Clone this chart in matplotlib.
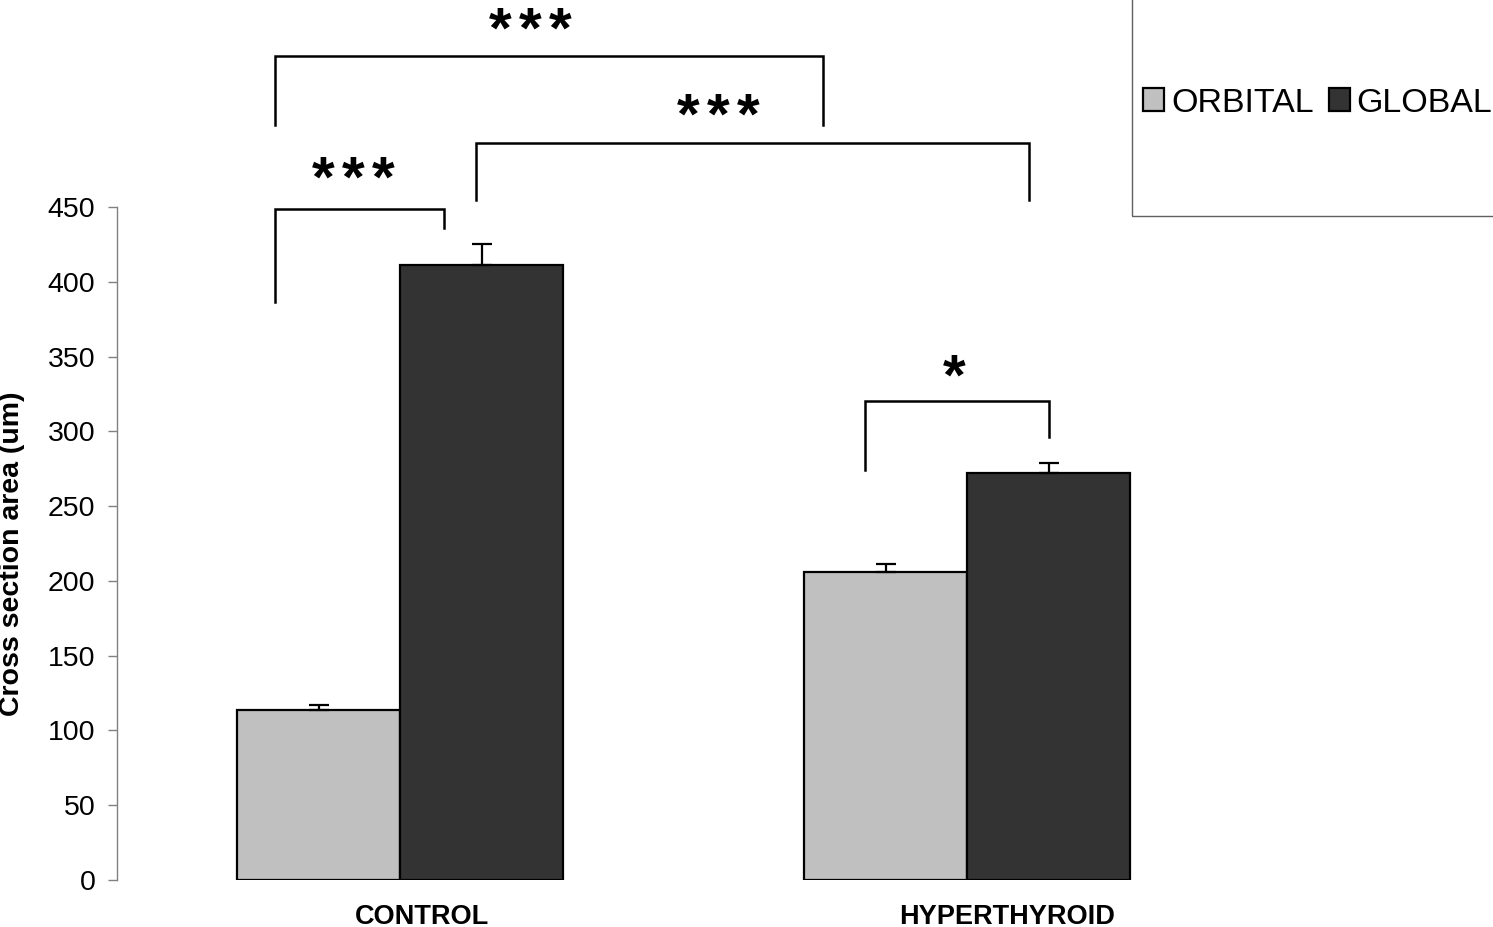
import numpy as np
import matplotlib.pyplot as plt
from matplotlib.patches import Patch, Rectangle

plt.rcParams['font.family'] = ['Liberation Sans', 'DejaVu Sans']

# datos
groups = ["CONTROL", "HYPERTHYROID"]
series = ["ORBITAL", "GLOBAL"]
orbital = [113.7, 206.1]
orbital_err = [3.3, 5.3]
global_ = [411.2, 271.9]
global_err = [14.2, 7.1]

# brackets de significancia: (x izq, x der, y izq, y arriba, y der, n estrellas, x texto, y base texto)
brackets = [
    (-0.221, 0.077, 386.5, 448.7, 436.0, 3, -0.083, 457.0),
    (-0.221, 0.745, 504.8, 551.0, 504.8, 3, 0.230, 556.3),
    (0.133, 1.109, 454.7, 492.8, 454.7, 3, 0.560, 498.8),
    (0.819, 1.144, 274.0, 320.3, 296.2, 1, 0.978, 324.9),
]

colors = ["#c0c0c0", "#333333"]

fig = plt.figure(figsize=(14.93, 9.27), dpi=100)
ax = fig.add_axes([0.07837, 0.05070, 0.7592, 0.7260])

x = np.arange(len(groups))
w = 0.2875
ax.bar(x - w / 2, orbital, w, color=colors[0], edgecolor="black", linewidth=1.6,
       yerr=[np.zeros(len(groups)), orbital_err], capsize=7,
       error_kw=dict(elinewidth=1.6, capthick=1.6, ecolor="black"))
ax.bar(x + w / 2, global_, w, color=colors[1], edgecolor="black", linewidth=1.6,
       yerr=[np.zeros(len(groups)), global_err], capsize=7,
       error_kw=dict(elinewidth=1.6, capthick=1.6, ecolor="black"))

ax.set_xlim(-0.5, 1.5)
ax.set_ylim(0, 450)
ax.set_yticks(np.arange(0, 451, 50))
ax.tick_params(axis="y", direction="out", length=6.5, width=1, color="#808080",
               labelsize=20.5, pad=9)
ax.set_xticks([])
for s in ["top", "right", "bottom"]:
    ax.spines[s].set_visible(False)
ax.spines["left"].set_color("#808080")
ax.spines["left"].set_linewidth(1)

# etiquetas de grupo
label_shift = [0.039, 0.071]
for i, g in enumerate(groups):
    ax.text(x[i] + label_shift[i], -16, g, ha="center", va="top",
            fontsize=19.5, fontweight="bold")

fig.text(12 / 1493, 0.4024, "Cross section area (um)", rotation=90,
         ha="center", va="center", fontsize=20.5, fontweight="bold")

# brackets
for x1, x2, y1, yt, y2, n, tx, ty in brackets:
    ax.plot([x1, x1, x2, x2], [y1, yt, yt, y2], color="black", lw=1.8,
            clip_on=False, solid_joinstyle="miter")
    for k in range(n):
        ax.annotate("*", (tx, ty), xytext=((k - (n - 1) / 2) * 21.6, 0),
                    textcoords="offset points", ha="center", va="baseline",
                    fontsize=42, fontweight="bold", annotation_clip=False)

# leyenda
fig.patches.append(Rectangle((1132 / 1493, 1 - 216 / 927), 0.4, 0.4,
                             transform=fig.transFigure, fill=False,
                             edgecolor="#606060", lw=1))
handles = [Patch(facecolor=c, edgecolor="black", linewidth=1.6) for c in colors]
fig.legend(handles, series, loc="center left",
           bbox_to_anchor=(1143 / 1493, 1 - 103 / 927), ncol=2, frameon=False,
           fontsize=24.5, handlelength=0.62, handleheight=0.62, handletextpad=0.2,
           columnspacing=0.45, borderpad=0, borderaxespad=0)

fig.savefig("out.png", dpi=100)
